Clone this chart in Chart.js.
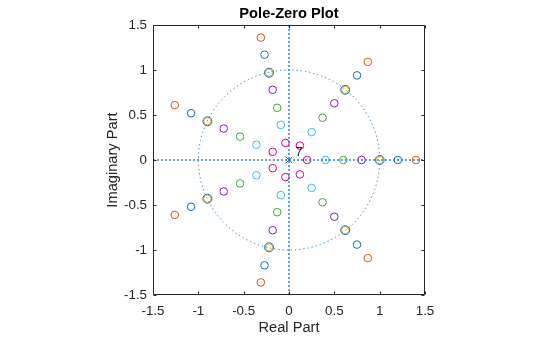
<!DOCTYPE html>
<html>
<head>
<meta charset="utf-8">
<script src="https://cdn.jsdelivr.net/npm/chart.js@4/dist/chart.umd.min.js"></script>
<style>
  html, body { margin: 0; padding: 0; background: #ffffff; }
  #wrap { width: 560px; height: 337px; position: relative; }
</style>
</head>
<body>
<div id="wrap"><canvas id="pz"></canvas></div>
<script>
// Zeros of z^7 - r^7 for several radii (real and imaginary parts), poles at the origin.
const zerosR14Re = [1.40, 0.87, -0.31, -1.26, -1.26, -0.31, 0.87];
const zerosR14Im = [0.00, 1.09, 1.36, 0.61, -0.61, -1.36, -1.09];
const zerosR12Re = [1.20, 0.75, -0.27, -1.08, -1.08, -0.27, 0.75];
const zerosR12Im = [0.00, 0.94, 1.17, 0.52, -0.52, -1.17, -0.94];
const zerosR10Re = [1.00, 0.62, -0.22, -0.90, -0.90, -0.22, 0.62];
const zerosR10Im = [0.00, 0.78, 0.97, 0.43, -0.43, -0.97, -0.78];
const zerosR08Re = [0.80, 0.50, -0.18, -0.72, -0.72, -0.18, 0.50];
const zerosR08Im = [0.00, 0.63, 0.78, 0.35, -0.35, -0.78, -0.63];
const zerosR06Re = [0.60, 0.37, -0.13, -0.54, -0.54, -0.13, 0.37];
const zerosR06Im = [0.00, 0.47, 0.58, 0.26, -0.26, -0.58, -0.47];
const zerosR04Re = [0.40, 0.25, -0.09, -0.36, -0.36, -0.09, 0.25];
const zerosR04Im = [0.00, 0.31, 0.39, 0.17, -0.17, -0.39, -0.31];
const zerosR02Re = [0.20, 0.12, -0.04, -0.18, -0.18, -0.04, 0.12];
const zerosR02Im = [0.00, 0.16, 0.19, 0.09, -0.09, -0.19, -0.16];
const polesRe = [0];
const polesIm = [0];
const poleMultiplicity = '7';
const axisTicks = [-1.5, -1, -0.5, 0, 0.5, 1, 1.5];
const axisMin = -1.5, axisMax = 1.5;
const unitRadius = 1;

const FONT = '"Liberation Sans", Arial, Helvetica, sans-serif';
const INK = '#262626';
const C = {
  blue: '#1171BE', orange: '#DD5400', yellow: '#EDB120', purple: '#8516D1',
  green: '#3BAA32', cyan: '#2FBEEF', magenta: '#D1048B'
};

const pts = (re, im) => re.map((x, i) => ({ x, y: im[i] }));

function zeroSet(label, re, im, color, radius) {
  return {
    label, data: pts(re, im), showLine: false,
    pointStyle: 'circle', pointRadius: radius, pointHoverRadius: radius,
    pointBorderColor: color, pointBackgroundColor: 'rgba(0,0,0,0)', pointBorderWidth: 1
  };
}

// dotted real / imaginary axes across the plot
const guide = (data) => ({
  data, showLine: true, pointRadius: 0, borderColor: 'rgba(17,113,190,0.65)',
  borderWidth: 2, borderDash: [2, 2], fill: false
});

// unit circle, box with inward ticks, title and pole multiplicity
const decor = {
  id: 'decor',
  beforeDatasetsDraw(chart) {
    const { ctx, scales: { x, y } } = chart;
    const cx = x.getPixelForValue(0), cy = y.getPixelForValue(0);
    const rx = Math.abs(x.getPixelForValue(unitRadius) - cx);
    const ry = Math.abs(y.getPixelForValue(unitRadius) - cy);
    ctx.save();
    ctx.strokeStyle = C.blue;
    ctx.lineWidth = 1;
    ctx.setLineDash([1.2, 3]);
    ctx.beginPath();
    ctx.ellipse(cx, cy, rx, ry, 0, 0, Math.PI * 2);
    ctx.stroke();
    ctx.restore();
  },
  afterDraw(chart) {
    const { ctx, chartArea: a, scales: { x, y } } = chart;
    ctx.save();
    ctx.setLineDash([]);
    ctx.globalAlpha = 1;
    ctx.strokeStyle = INK;
    ctx.lineWidth = 1;
    const L = Math.round(a.left) + 0.5, R = Math.round(a.right) - 0.5;
    const T = Math.round(a.top) + 0.5, B = Math.round(a.bottom) - 0.5;
    ctx.beginPath();
    ctx.moveTo(L, T); ctx.lineTo(R, T); ctx.lineTo(R, B); ctx.lineTo(L, B); ctx.closePath();
    const tl = 3;
    axisTicks.forEach(v => {
      const px = Math.round(x.getPixelForValue(v)) + 0.5;
      ctx.moveTo(px, B); ctx.lineTo(px, B - tl);
      ctx.moveTo(px, T); ctx.lineTo(px, T + tl);
      const py = Math.round(y.getPixelForValue(v)) + 0.5;
      ctx.moveTo(L, py); ctx.lineTo(L + tl, py);
      ctx.moveTo(R, py); ctx.lineTo(R - tl, py);
    });
    ctx.stroke();

    ctx.fillStyle = '#000000';
    ctx.font = 'bold 14.67px ' + FONT;
    ctx.textAlign = 'center';
    ctx.textBaseline = 'alphabetic';
    ctx.fillText('Pole-Zero Plot', (a.left + a.right) / 2, 18);

    ctx.fillStyle = INK;
    ctx.font = '13.33px ' + FONT;
    ctx.textAlign = 'left';
    ctx.fillText(poleMultiplicity, x.getPixelForValue(polesRe[0] + 0.07),
      y.getPixelForValue(polesIm[0] + 0.04));
    ctx.restore();
  }
};

const tickOpts = {
  min: axisMin, max: axisMax,
  grid: { display: false, drawTicks: false, tickLength: 0 },
  border: { display: false }
};

new Chart(document.getElementById('pz'), {
  type: 'scatter',
  data: {
    datasets: [
      guide([{ x: axisMin, y: 0 }, { x: axisMax, y: 0 }]),
      guide([{ x: 0, y: axisMin }, { x: 0, y: axisMax }]),
      zeroSet('r = 1.0', zerosR10Re, zerosR10Im, C.blue, 4.5),
      zeroSet('r = 1.2', zerosR12Re, zerosR12Im, C.blue, 3.8),
      zeroSet('r = 1.4', zerosR14Re, zerosR14Im, C.orange, 3.8),
      zeroSet('r = 1.0', zerosR10Re, zerosR10Im, C.yellow, 3.6),
      zeroSet('r = 0.8', zerosR08Re, zerosR08Im, C.purple, 3.8),
      zeroSet('r = 0.6', zerosR06Re, zerosR06Im, C.green, 3.8),
      zeroSet('r = 0.4', zerosR04Re, zerosR04Im, C.cyan, 3.8),
      zeroSet('r = 0.2', zerosR02Re, zerosR02Im, C.magenta, 3.8),
      {
        label: 'poles', data: pts(polesRe, polesIm), showLine: false,
        pointStyle: 'crossRot', pointRadius: 4.5, pointBorderColor: C.blue,
        pointBorderWidth: 1
      }
    ]
  },
  plugins: [decor],
  options: {
    responsive: true,
    maintainAspectRatio: false,
    animation: false,
    events: [],
    layout: { padding: { left: 0, right: 135, top: 25, bottom: 0 } },
    plugins: { legend: { display: false }, tooltip: { enabled: false }, title: { display: false } },
    scales: {
      x: {
        ...tickOpts,
        position: 'bottom',
        afterBuildTicks(s) { s.ticks = axisTicks.map(v => ({ value: v })); },
        afterFit(s) { s.height = 42; },
        ticks: {
          color: INK, font: { family: FONT, size: 13.33 }, padding: 8,
          maxRotation: 0, autoSkip: false, callback: v => String(v)
        },
        title: {
          display: true, text: 'Real Part', color: INK,
          font: { family: FONT, size: 14.67 }, padding: { top: 0, bottom: 0 }
        }
      },
      y: {
        ...tickOpts,
        position: 'left',
        afterBuildTicks(s) { s.ticks = axisTicks.map(v => ({ value: v })); },
        afterFit(s) { s.width = 153; },
        ticks: {
          color: INK, font: { family: FONT, size: 13.33 }, padding: 6,
          autoSkip: false, callback: v => String(v)
        },
        title: {
          display: true, text: 'Imaginary Part', color: INK,
          font: { family: FONT, size: 14.67 }, padding: { top: 104, bottom: 0 }
        }
      }
    }
  }
});
</script>
</body>
</html>
